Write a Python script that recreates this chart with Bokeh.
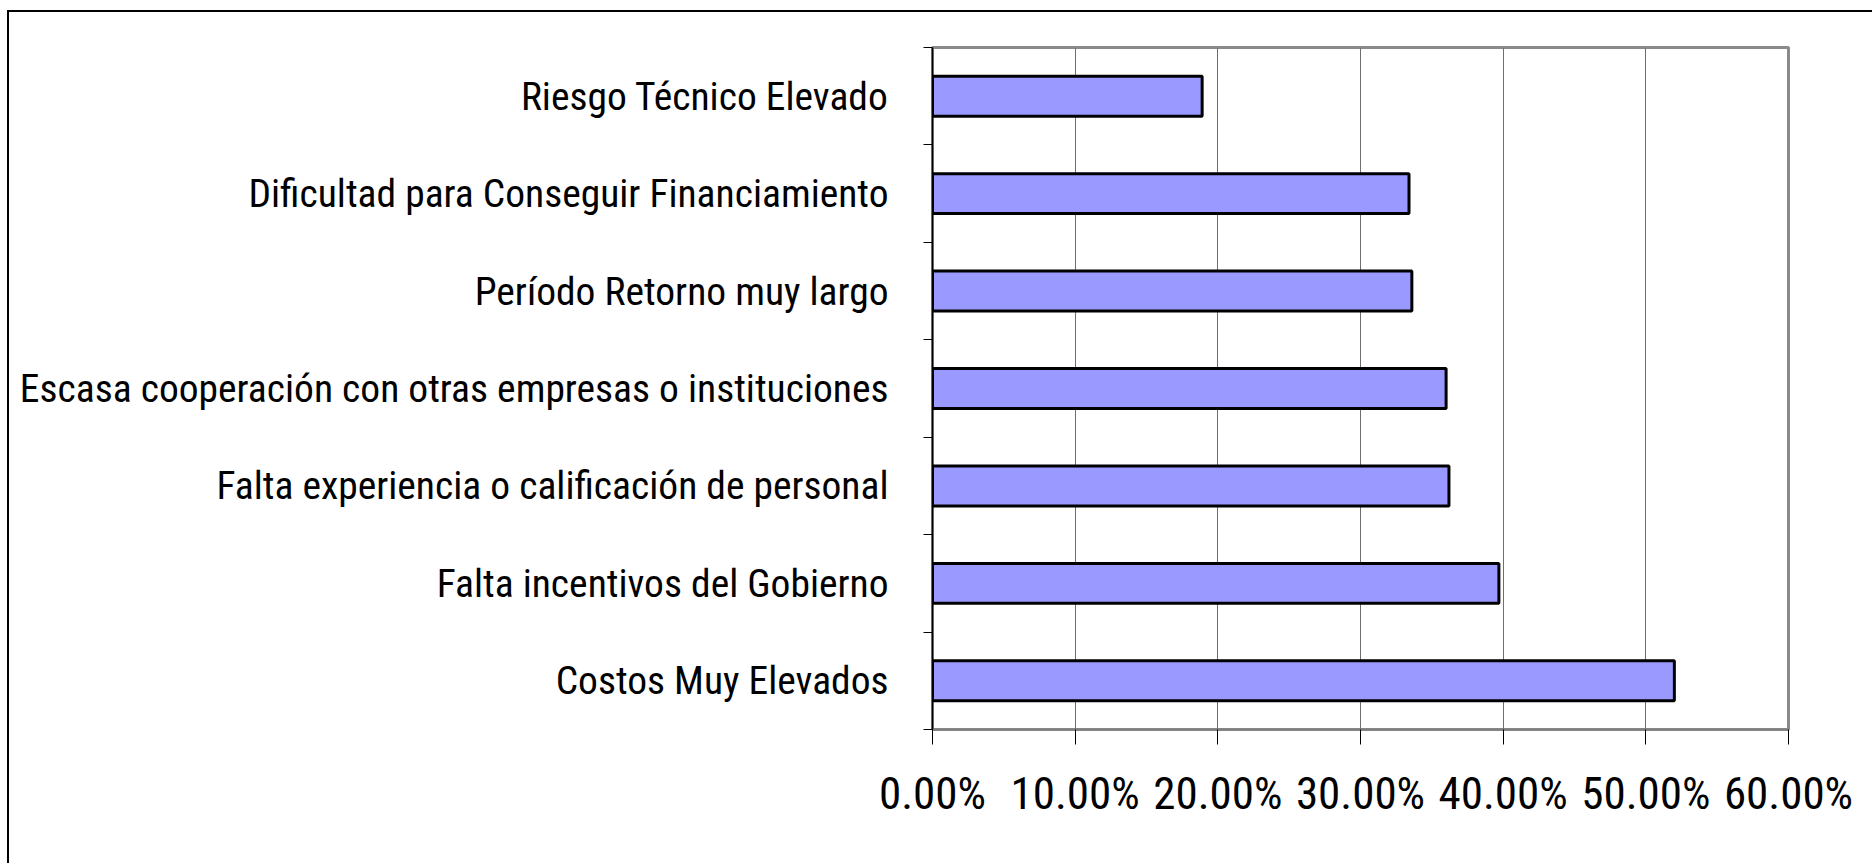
from bokeh.plotting import figure
from bokeh.models import FixedTicker, NumeralTickFormatter, Range1d, ColumnDataSource
from bokeh.embed import file_html
from bokeh.resources import INLINE

# Data (top to bottom as shown in the chart)
categories = [
    "Riesgo Técnico Elevado",
    "Dificultad para Conseguir Financiamiento",
    "Período Retorno muy largo",
    "Escasa cooperación con otras empresas o instituciones",
    "Falta experiencia o calificación de personal",
    "Falta incentivos del Gobierno",
    "Costos Muy Elevados",
]
values = [0.189, 0.334, 0.336, 0.360, 0.362, 0.397, 0.520]
x_ticks = [0.0, 0.1, 0.2, 0.3, 0.4, 0.5, 0.6]

n = len(categories)
ypos = [n - i - 0.5 for i in range(n)]
src = ColumnDataSource(dict(y=ypos, v=values, cat=categories))

FONT = "Roboto Condensed"

p = figure(
    output_backend="svg", toolbar_location=None,
    frame_width=856, frame_height=682,
    x_range=Range1d(0, 0.6), y_range=Range1d(0, n),
    min_border_left=923, min_border_top=35, min_border_right=84, min_border_bottom=134,
    background_fill_color="white", border_fill_color="white",
)
p.styles = {"border-left": "2px solid black", "border-top": "2px solid black",
            "margin-left": "7px", "margin-top": "10px"}

p.hbar(y="y", right="v", left=0, height=0.41, source=src,
       fill_color="#9999ff", line_color="black", line_width=3)

# x axis
xa = p.xaxis[0]
xa.ticker = FixedTicker(ticks=x_ticks, minor_ticks=[])
xa.formatter = NumeralTickFormatter(format="0.00%")
xa.major_tick_out = 15
xa.major_tick_in = 0
xa.major_tick_line_color = "black"
xa.axis_line_color = "#808080"
xa.axis_line_width = 2
xa.major_label_text_font = FONT
xa.major_label_text_font_size = "45px"
xa.major_label_text_color = "black"
xa.major_label_standoff = 22

# y axis: labels at band centers, ticks at band boundaries
ya = p.yaxis[0]
ya.ticker = FixedTicker(ticks=ypos, minor_ticks=list(range(n + 1)))
ya.major_label_overrides = {y: c for y, c in zip(ypos, categories)}
ya.major_tick_out = 0
ya.major_tick_in = 0
ya.minor_tick_out = 9
ya.minor_tick_in = 0
ya.minor_tick_line_color = "black"
ya.axis_line_color = "black"
ya.axis_line_width = 1.5
ya.major_label_text_font = FONT
ya.major_label_text_font_size = "39.5px"
ya.major_label_text_color = "black"
ya.major_label_standoff = 35

p.xgrid.grid_line_color = "#6e6e6e"
p.xgrid.grid_line_width = 1
p.ygrid.grid_line_color = None

p.outline_line_color = "#8a8a8a"
p.outline_line_width = 3

open("out.html", "w").write(file_html(p, INLINE))
